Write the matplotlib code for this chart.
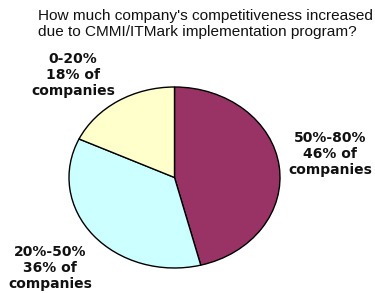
import matplotlib
matplotlib.use("Agg")
import matplotlib.pyplot as plt

categories = ["50%-80%", "20%-50%", "0-20%"]
shares = [46, 36, 18]
colors = ["#993366", "#CCFFFF", "#FFFFCC"]
title = "How much company's competitiveness increased\ndue to CMMI/ITMark implementation program?"

W, H = 375, 293
fig = plt.figure(figsize=(W / 100, H / 100), dpi=100)
fig.patch.set_facecolor("white")

# pie axes (slightly elliptical like the reference)
left, right, top, bottom = 69, 280, 87, 268
ax = fig.add_axes([left / W, 1 - bottom / H, (right - left) / W, (bottom - top) / H])
ax.pie(shares, colors=colors, startangle=90, counterclock=False,
       wedgeprops=dict(edgecolor="black", linewidth=1.0))
ax.set_aspect("auto")
ax.set_xlim(-1, 1)
ax.set_ylim(-1, 1)
ax.axis("off")

fig.text(38 / W, 1 - 24 / H, title, ha="left", va="center", fontsize=11.1,
         family="Liberation Sans", color="#111111", linespacing=1.12)

label_pos = {"50%-80%": (330, 154), "20%-50%": (50, 268), "0-20%": (73, 75)}
for cat, val in zip(categories, shares):
    x, y = label_pos[cat]
    fig.text(x / W, 1 - y / H, f"{cat}\n{val}% of\ncompanies", ha="center", va="center",
             fontsize=10, fontweight="bold", family="DejaVu Sans", color="#111111",
             linespacing=1.15)

fig.savefig("out.png", dpi=100)
